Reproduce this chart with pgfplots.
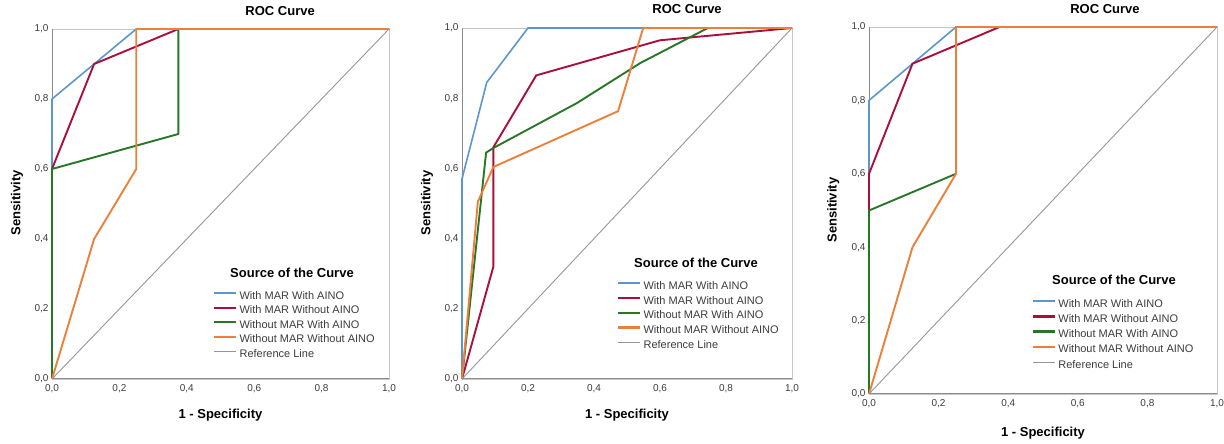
\documentclass[border=0pt]{standalone}
\usepackage{pgfplots}
\pgfplotsset{compat=1.18}
\usepackage{fontspec}
\setmainfont{Liberation Sans}
\definecolor{cblue}{RGB}{91,150,205}
\definecolor{cred}{RGB}{170,15,60}
\definecolor{cgreen}{RGB}{40,118,40}
\definecolor{corange}{RGB}{236,128,58}
\definecolor{cref}{RGB}{150,150,150}
\definecolor{ctext}{RGB}{60,60,60}
\pgfplotsset{
  roc/.style={
    scale only axis, anchor=south west, clip=false,
    xmin=0,xmax=1,ymin=0,ymax=1,
    xtick={0,0.2,0.4,0.6,0.8,1}, ytick={0,0.2,0.4,0.6,0.8,1},
    xticklabels={{0,0},{0,2},{0,4},{0,6},{0,8},{1,0}},
    yticklabels={{0,0},{0,2},{0,4},{0,6},{0,8},{1,0}},
    major tick length=0pt,
    tick label style={font=\fontsize{10}{12}\selectfont, text=ctext},
    xticklabel style={yshift=-2pt},
    axis line style={draw=black!22, line width=0.9pt},
    title={ROC Curve},
    title style={anchor=center, font=\fontsize{13}{15}\selectfont\bfseries},
    xlabel={1 - Specificity}, ylabel={Sensitivity},
    xlabel style={anchor=center, font=\fontsize{13}{15}\selectfont\bfseries},
    ylabel style={anchor=center, font=\fontsize{13}{15}\selectfont\bfseries},
    legend cell align=left,
    legend style={anchor=north west, draw=none, fill=none, inner sep=0pt,
      column sep=2pt,
      nodes={inner sep=0pt, text height=8pt, text depth=2pt, text=ctext,
        font=\fontsize{11}{13}\selectfont}},
    legend image code/.code={\draw[#1, line width=2.3pt] (0pt,3pt) -- (22pt,3pt);},
    every axis plot/.append style={line width=1.9pt, line join=round},
  },
  sblue/.style={cblue, line width=1.6pt},
  sred/.style={cred},
  sgreen/.style={cgreen},
  sorange/.style={corange},
  sref/.style={cref, line width=0.9pt},
}
\newcommand{\leftbottom}{\draw[black!45, line width=1pt] (rel axis cs:0,1) -- (rel axis cs:0,0) -- (rel axis cs:1,0);}
\begin{document}
\begin{tikzpicture}
\useasboundingbox (0pt,0pt) rectangle (1224pt,444pt);
% ---------- Panel 1 ----------
\begin{axis}[roc, at={(52pt,65pt)}, width=337pt, height=350pt,
  title style={at={(axis description cs:0.677,1.034)}},
  xlabel style={at={(axis description cs:0.5,-0.103)}},
  ylabel style={at={(axis description cs:-0.104,0.503)}},
  legend style={at={(axis description cs:0.478,0.251)}, row sep=4.5pt}]
\leftbottom
\addplot[sblue] coordinates {(0,0) (0,0.8) (0.125,0.9) (0.25,1) (1,1)};
\addlegendentry{With MAR With AINO}
\addplot[sred] coordinates {(0,0) (0,0.6) (0.125,0.9) (0.375,1) (1,1)};
\addlegendentry{With MAR Without AINO}
\addplot[sgreen] coordinates {(0,0) (0,0.6) (0.375,0.7) (0.375,1) (1,1)};
\addlegendentry{Without MAR With AINO}
\addplot[sorange] coordinates {(0,0) (0.125,0.4) (0.25,0.6) (0.25,1) (1,1)};
\addlegendentry{Without MAR Without AINO}
\addplot[sref, legend image code/.code={\draw[cref, line width=1pt] (0pt,3pt) -- (22pt,3pt);}] coordinates {(0,0) (1,1)};
\addlegendentry{Reference Line}
\end{axis}
\node[font=\fontsize{13}{15}\selectfont\bfseries] at (292pt,171pt) {Source of the Curve};
% ---------- Panel 2 ----------
\begin{axis}[roc, at={(462pt,65pt)}, width=330pt, height=351pt,
  title style={at={(axis description cs:0.682,1.037)}},
  xlabel style={at={(axis description cs:0.5,-0.103)}},
  ylabel style={at={(axis description cs:-0.106,0.501)}},
  legend style={at={(axis description cs:0.47,0.279)}, row sep=4.75pt}]
\leftbottom
\addplot[sblue] coordinates {(0,0) (0,0.57) (0.075,0.845) (0.097,0.872) (0.2,1) (1,1)};
\addlegendentry{With MAR With AINO}
\addplot[sred] coordinates {(0,0) (0.095,0.32) (0.095,0.66) (0.225,0.865) (0.6,0.965) (1,1)};
\addlegendentry{With MAR Without AINO}
\addplot[sgreen] coordinates {(0,0) (0.073,0.645) (0.095,0.658) (0.348,0.786) (0.54,0.9) (0.745,1) (1,1)};
\addlegendentry{Without MAR With AINO}
\addplot[sorange] coordinates {(0,0) (0.048,0.505) (0.095,0.604) (0.473,0.763) (0.549,1) (1,1)};
\addlegendentry{Without MAR Without AINO}
\addplot[sref, legend image code/.code={\draw[cref, line width=1pt] (0pt,3pt) -- (22pt,3pt);}] coordinates {(0,0) (1,1)};
\addlegendentry{Reference Line}
\end{axis}
\node[font=\fontsize{13}{15}\selectfont\bfseries] at (696pt,181pt) {Source of the Curve};
% ---------- Panel 3 ----------
\begin{axis}[roc, at={(869pt,50pt)}, width=348pt, height=367pt,
  title style={at={(axis description cs:0.678,1.033)}},
  xlabel style={at={(axis description cs:0.5,-0.106)}},
  ylabel style={at={(axis description cs:-0.103,0.501)}},
  legend style={at={(axis description cs:0.468,0.259)}, row sep=5.25pt}]
\leftbottom
\addplot[sblue] coordinates {(0,0) (0,0.8) (0.125,0.9) (0.25,1) (1,1)};
\addlegendentry{With MAR With AINO}
\addplot[sred] coordinates {(0,0) (0,0.6) (0.125,0.9) (0.375,1) (1,1)};
\addlegendentry{With MAR Without AINO}
\addplot[sgreen] coordinates {(0,0) (0,0.5) (0.25,0.6) (0.25,1) (1,1)};
\addlegendentry{Without MAR With AINO}
\addplot[sorange] coordinates {(0,0) (0.125,0.4) (0.25,0.6) (0.25,1) (1,1)};
\addlegendentry{Without MAR Without AINO}
\addplot[sref, legend image code/.code={\draw[cref, line width=1pt] (0pt,3pt) -- (22pt,3pt);}] coordinates {(0,0) (1,1)};
\addlegendentry{Reference Line}
\end{axis}
\node[font=\fontsize{13}{15}\selectfont\bfseries] at (1114pt,164pt) {Source of the Curve};
\end{tikzpicture}
\end{document}
